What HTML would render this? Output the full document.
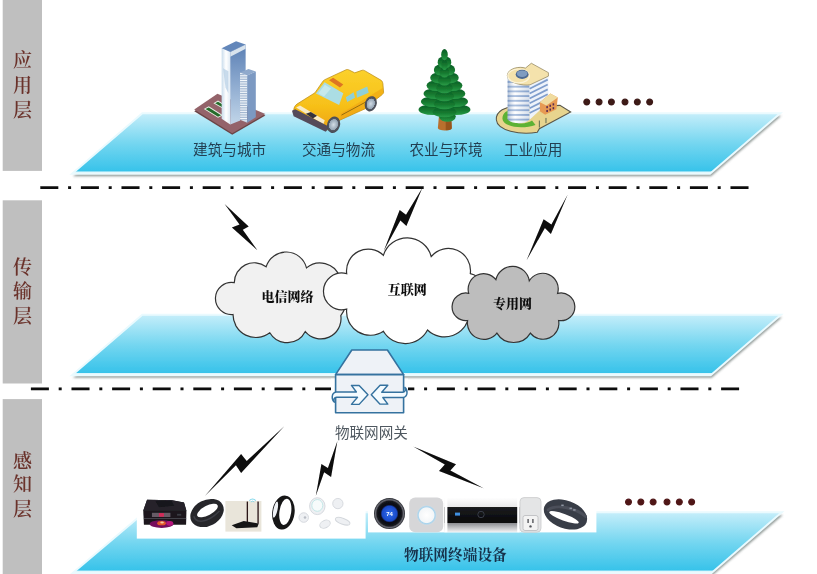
<!DOCTYPE html>
<html lang="zh">
<head>
<meta charset="utf-8">
<title>物联网三层架构</title>
<style>
html,body{margin:0;padding:0;background:#fff;}
body{width:817px;height:574px;overflow:hidden;position:relative;font-family:"Liberation Sans","Noto Sans CJK SC",sans-serif;}
svg{position:absolute;left:0;top:0;display:block;}
.side{font-family:"Liberation Serif","Noto Serif CJK SC",serif;font-weight:600;font-size:19px;fill:#6b332c;text-anchor:middle;}
.lab{font-family:"Liberation Sans","Noto Sans CJK SC",sans-serif;font-size:14.6px;fill:#243f52;text-anchor:middle;}
.cloudt{font-family:"Liberation Serif","Noto Serif CJK SC",serif;font-weight:900;font-size:13px;fill:#111;text-anchor:middle;}
.dev{font-family:"Liberation Serif","Noto Serif CJK SC",serif;font-weight:700;font-size:14.7px;fill:#17324c;text-anchor:middle;}
.gw{font-family:"Liberation Sans","Noto Sans CJK SC",sans-serif;font-size:14.6px;fill:#4f5860;text-anchor:middle;}
.dots{font-family:"Liberation Serif","Noto Serif CJK SC",serif;font-weight:900;}
</style>
</head>
<body>
<svg width="817" height="574" viewBox="0 0 817 574">
<defs>
  <linearGradient id="pl" x1="0" y1="0" x2="0" y2="1">
    <stop offset="0" stop-color="#c6eefa"/>
    <stop offset="0.1" stop-color="#b5e9f8"/>
    <stop offset="0.5" stop-color="#74d6f0"/>
    <stop offset="0.955" stop-color="#38c3ea"/>
    <stop offset="0.968" stop-color="#dcf6fd"/>
    <stop offset="1" stop-color="#ecfbfe"/>
  </linearGradient>
  <filter id="sh" x="-5%" y="-20%" width="110%" height="150%">
    <feGaussianBlur stdDeviation="1.0"/>
  </filter>

  <linearGradient id="twR" x1="0" y1="0" x2="0" y2="1">
    <stop offset="0" stop-color="#5a7fb4"/><stop offset="0.5" stop-color="#8eabd0"/><stop offset="1" stop-color="#c2d6e9"/>
  </linearGradient>
  <linearGradient id="twL" x1="0" y1="0" x2="1" y2="0">
    <stop offset="0" stop-color="#c9dcec"/><stop offset="0.5" stop-color="#ffffff"/><stop offset="1" stop-color="#dfeaf4"/>
  </linearGradient>
  <pattern id="stripes" width="10" height="9" patternUnits="userSpaceOnUse">
    <rect width="10" height="9" fill="#f4f8fc"/><rect y="5" width="10" height="4" fill="#93abc9"/>
  </pattern>
  <radialGradient id="leaf" cx="0.45" cy="0.4" r="0.65">
    <stop offset="0" stop-color="#2f9b45"/><stop offset="0.7" stop-color="#17762f"/><stop offset="1" stop-color="#0c5a22"/>
  </radialGradient>
  <linearGradient id="taxi" x1="0" y1="0" x2="0" y2="1">
    <stop offset="0" stop-color="#fbd12b"/><stop offset="0.6" stop-color="#f7c019"/><stop offset="1" stop-color="#eea312"/>
  </linearGradient>
  <radialGradient id="wheel" cx="0.5" cy="0.5" r="0.5">
    <stop offset="0" stop-color="#d3dde6"/><stop offset="0.66" stop-color="#93a3b3"/><stop offset="0.7" stop-color="#555862"/><stop offset="1" stop-color="#474a54"/>
  </radialGradient>
  <pattern id="floors" width="10" height="27" patternUnits="userSpaceOnUse">
    <rect width="10" height="27" fill="#ffffff"/><rect y="16" width="10" height="11" fill="#90abd3"/>
  </pattern>
  <linearGradient id="cylsh" x1="0" y1="0" x2="1" y2="0">
    <stop offset="0" stop-color="#5f7fae" stop-opacity="0.55"/><stop offset="0.35" stop-color="#ffffff" stop-opacity="0.25"/><stop offset="1" stop-color="#5f7fae" stop-opacity="0.25"/>
  </linearGradient>
  <filter id="soft" x="-10%" y="-10%" width="120%" height="120%"><feGaussianBlur stdDeviation="0.35"/></filter>

  <radialGradient id="nest" cx="0.5" cy="0.5" r="0.5">
    <stop offset="0" stop-color="#2f6cf0"/><stop offset="0.48" stop-color="#1a4ac8"/><stop offset="0.58" stop-color="#0a0c16"/><stop offset="0.8" stop-color="#14151b"/><stop offset="0.9" stop-color="#6a6c74"/><stop offset="1" stop-color="#23242a"/>
  </radialGradient>
  <radialGradient id="prot" cx="0.5" cy="0.5" r="0.5">
    <stop offset="0" stop-color="#ffffff"/><stop offset="0.72" stop-color="#f3f6f8"/><stop offset="0.82" stop-color="#a8d4ee"/><stop offset="1" stop-color="#d9dadc"/>
  </radialGradient>
  <linearGradient id="stb" x1="0" y1="0" x2="0" y2="1">
    <stop offset="0" stop-color="#ffffff"/><stop offset="0.27" stop-color="#e9e9ea"/><stop offset="0.28" stop-color="#1a1b1f"/><stop offset="0.72" stop-color="#08080a"/><stop offset="0.74" stop-color="#8d8e92"/><stop offset="1" stop-color="#f4f4f5"/>
  </linearGradient>
  <filter id="soft2" x="-10%" y="-10%" width="120%" height="120%"><feGaussianBlur stdDeviation="0.5"/></filter>
  <filter id="gblur" filterUnits="userSpaceOnUse" x="-10" y="-10" width="840" height="600"><feGaussianBlur stdDeviation="0.4"/></filter>
  <linearGradient id="leaf2" x1="0" y1="0" x2="0" y2="1">
    <stop offset="0" stop-color="#0b5c26"/><stop offset="0.55" stop-color="#15792f"/><stop offset="1" stop-color="#2a9c48"/>
  </linearGradient>
</defs>
<g filter="url(#gblur)">

<!-- sidebars -->
<rect x="2.7" y="-6" width="39.3" height="176.9" fill="#bfbfbf"/>
<rect x="2.7" y="200.3" width="39.3" height="183.2" fill="#bfbfbf"/>
<rect x="2.7" y="399.1" width="39.3" height="182" fill="#bfbfbf"/>
<text class="side" x="22.4" y="67">应</text>
<text class="side" x="22.4" y="91.5">用</text>
<text class="side" x="22.4" y="116.5">层</text>

<text class="side" x="22.5" y="273.5">传</text>
<text class="side" x="22.5" y="298">输</text>
<text class="side" x="22.5" y="322.5">层</text>
<text class="side" x="22.5" y="467.5">感</text>
<text class="side" x="22.5" y="491">知</text>
<text class="side" x="22.5" y="515.5">层</text>
<!-- planes -->
<g>
  <polygon points="143.3,115.8 781.3,115.8 711.0,176.2 73.0,176.2" fill="#7f8986" opacity="0.85" filter="url(#sh)"/>
  <polygon points="142.3,113.2 780.3,113.2 710.0,173.8 72,173.8" fill="url(#pl)" stroke="#eafafe" stroke-width="2"/>
  <polygon points="143.3,317.3 782.0,317.3 711.7,377.7 73.0,377.7" fill="#7f8986" opacity="0.85" filter="url(#sh)"/>
  <polygon points="142.3,314.7 781,314.7 710.7,375.3 72,375.3" fill="url(#pl)" stroke="#eafafe" stroke-width="2"/>
  <polygon points="145.6,514.9 782.8,514.9 712.5,575.3 73.7,575.3" fill="#7f8986" opacity="0.85" filter="url(#sh)"/>
  <polygon points="144.6,512.3 781.8,512.3 711.5,572.9 72.7,572.9" fill="url(#pl)" stroke="#eafafe" stroke-width="2"/>
</g>
<!-- dash-dot separators -->
<line x1="40.3" y1="187.6" x2="748.6" y2="187.6" stroke="#0a0a0a" stroke-width="2.8" stroke-dasharray="18 9.8 3 9.8"/>
<line x1="30.9" y1="388.8" x2="739.2" y2="388.8" stroke="#0a0a0a" stroke-width="2.8" stroke-dasharray="18 9.8 3 9.8"/>
<text class="lab" x="229.6" y="155.2">建筑与城市</text>
<text class="lab" x="338.5" y="155.2">交通与物流</text>
<text class="lab" x="446" y="155.2">农业与环境</text>
<text class="lab" x="533.2" y="155.2">工业应用</text>
<text class="dots" x="580.7" y="104.8" font-size="36.6" fill="#3c1a17" stroke="#3c1a17" stroke-width="1.1" letter-spacing="1.7">……</text>
<text class="dots" x="622.6" y="505.3" font-size="36.6" fill="#4f1416" stroke="#4f1416" stroke-width="1.1" letter-spacing="1.9">……</text>

<!-- skyscraper -->
<g transform="translate(190,30) scale(0.19185)" filter="url(#soft)">
  <polygon points="22,423 143,340 393,446 220,546" fill="#6b4446"/>
  <polygon points="22,415 143,332 393,438 220,538" fill="#94646a"/>
  <polygon points="72,412 98,398 172,444 146,458" fill="#e9efe6"/>
  <polygon points="81,412 98,404 162,444 146,452" fill="#256c2c"/>
  <polygon points="122,382 146,368 188,394 166,407" fill="#e9efe6"/>
  <polygon points="131,382 146,374 179,394 166,401" fill="#256c2c"/>
  <polygon points="165,95 210,115 210,492 165,462" fill="url(#twL)"/>
  <polygon points="210,115 290,75 290,215 262,240 262,472 210,492" fill="url(#twR)"/>
  <polygon points="210,115 290,75 290,98 210,140" fill="#d8e3ed"/>
  <polygon points="165,95 240,58 290,75 210,115" fill="#6487ba"/>
  <polygon points="261,222 305,203 343,216 298,237" fill="#8fa9cc"/>
  <polygon points="261,222 298,237 298,484 261,468" fill="url(#stripes)"/>
  <polygon points="298,237 343,216 343,455 298,484" fill="#7b99c2"/>
  <polygon points="172,200 200,215 200,330 185,300" fill="#b4cde4" opacity="0.7"/>
</g>
<!-- taxi -->
<g transform="translate(285,60) scale(0.13945)" filter="url(#soft)">
  <path d="M62,362 C64,340 72,326 86,316 L215,235 L272,152 C278,145 286,140 296,136 L438,70 C446,67 452,68 460,72 L500,92 L552,74 C560,72 566,73 574,78 L690,146 C698,152 700,160 702,170 L707,232 C706,240 700,246 690,254 L640,292 L585,345 L392,432 L335,500 L292,500 L66,392 Z" fill="url(#taxi)" stroke="#b98712" stroke-width="5"/>
  <polygon points="222,240 284,160 418,238 388,322" fill="#abdde4"/>
  <polygon points="240,238 286,178 330,204 280,262" fill="#d2eef0" opacity="0.7"/>
  <polygon points="436,268 492,232 502,270 446,302" fill="#8fd0d6"/>
  <polygon points="512,226 590,190 600,234 516,270" fill="#8fd0d6"/>
  <polygon points="316,146 345,128 418,176 394,198" fill="#dd7424"/>
  <path d="M395,430 L585,345 L640,292 L707,235 L700,200 L400,385 Z" fill="#eea010" opacity="0.55"/>
  <line x1="405" y1="395" x2="600" y2="290" stroke="#6e5210" stroke-width="5"/>
  <polygon points="80,340 108,326 285,432 275,462" fill="#f8f1da" opacity="0.9"/>
  <polygon points="50,364 74,354 300,470 312,492 292,514 62,404" fill="#554c5a"/>
  <polygon points="150,385 185,372 230,400 200,420" fill="#35313a"/>
  <ellipse cx="348" cy="464" rx="46" ry="60" fill="url(#wheel)" transform="rotate(18 348 464)"/>
  <ellipse cx="615" cy="314" rx="42" ry="56" fill="url(#wheel)" transform="rotate(18 615 314)"/>
</g>
<!-- tree -->
<g transform="translate(410,40) scale(0.17413)" filter="url(#soft)">
  <path d="M166,440 L236,440 L240,505 A39,14 0 0 1 160,505 Z" fill="#b8702f"/>
  <path d="M205,440 L236,440 L240,505 A39,14 0 0 1 205,519 Z" fill="#96551f"/>
  <polygon points="198,90 74,405 326,405" fill="#0e642a"/>
  <g fill="url(#leaf2)">
    <ellipse cx="215" cy="440" rx="48" ry="30"/>
    <ellipse cx="132" cy="400" rx="83" ry="31"/><ellipse cx="264" cy="400" rx="83" ry="31"/><ellipse cx="198" cy="414" rx="69" ry="30"/>
    <ellipse cx="138" cy="354" rx="75" ry="31"/><ellipse cx="258" cy="354" rx="75" ry="31"/><ellipse cx="198" cy="368" rx="62" ry="30"/>
    <ellipse cx="145" cy="308" rx="67" ry="31"/><ellipse cx="251" cy="308" rx="67" ry="31"/><ellipse cx="198" cy="322" rx="56" ry="30"/>
    <ellipse cx="152" cy="262" rx="57" ry="31"/><ellipse cx="244" cy="262" rx="57" ry="31"/><ellipse cx="198" cy="276" rx="48" ry="30"/>
    <ellipse cx="162" cy="217" rx="46" ry="31"/><ellipse cx="234" cy="217" rx="46" ry="31"/><ellipse cx="198" cy="231" rx="38" ry="30"/>
    <ellipse cx="171" cy="172" rx="34" ry="31"/><ellipse cx="225" cy="172" rx="34" ry="31"/><ellipse cx="198" cy="186" rx="28" ry="30"/>
    <ellipse cx="181" cy="128" rx="22" ry="31"/><ellipse cx="215" cy="128" rx="22" ry="31"/><ellipse cx="198" cy="142" rx="18" ry="30"/>
    <ellipse cx="198" cy="84" rx="19" ry="32"/>
  </g>
</g>
<!-- industrial building -->
<g transform="translate(485,50) scale(0.17422)" filter="url(#soft)">
  <path d="M65,400 C62,350 120,322 175,328 L430,318 L492,356 L312,452 L300,472 C200,490 70,462 65,400 Z" fill="#e7d48e" stroke="#5a5648" stroke-width="6"/>
  <path d="M100,395 C100,360 130,345 150,345 L150,400 C180,430 240,425 270,405 L290,430 C220,455 105,445 100,395 Z" fill="#5db234"/>
  <path d="M130,150 L130,385 A63,28 0 0 0 256,398 L256,190 Z" fill="url(#floors)"/>
  <path d="M130,150 L130,385 A63,28 0 0 0 256,398 L256,190 Z" fill="url(#cylsh)"/>
  <polygon points="256,196 364,146 364,300 256,400" fill="#eef3fa"/>
  <g stroke="#7f9dcc" stroke-width="10">
    <line x1="256" y1="222" x2="360" y2="170"/><line x1="256" y1="250" x2="360" y2="198"/><line x1="256" y1="278" x2="360" y2="226"/><line x1="256" y1="306" x2="360" y2="254"/><line x1="256" y1="334" x2="340" y2="292"/><line x1="256" y1="362" x2="320" y2="330"/>
  </g>
  <path d="M128,148 C128,104 200,92 232,104 L266,76 L364,130 L364,150 L258,200 C220,206 133,192 128,148 Z" fill="#f4e2ac" stroke="#8a7d55" stroke-width="4"/>
  <ellipse cx="193" cy="149" rx="62" ry="40" fill="none" stroke="#fbf3d8" stroke-width="7"/>
  <ellipse cx="213" cy="140" rx="37" ry="26" fill="#4d6a92"/>
  <ellipse cx="213" cy="136" rx="30" ry="19" fill="#7f9cc0"/>
  <polygon points="315,300 375,250 418,272 410,340 345,372 315,352" fill="#e79a52"/>
  <polygon points="315,300 375,250 418,272 352,318" fill="#f0dca0"/>
  <g fill="#5a2a50">
    <rect x="352" y="322" width="9" height="12"/><rect x="370" y="314" width="9" height="12"/><rect x="388" y="306" width="9" height="12"/>
    <rect x="352" y="344" width="9" height="12"/><rect x="370" y="336" width="9" height="12"/><rect x="388" y="328" width="9" height="12"/>
  </g>
  <line x1="312" y1="405" x2="312" y2="445" stroke="#4a5a48" stroke-width="5"/><line x1="350" y1="390" x2="350" y2="420" stroke="#4a5a48" stroke-width="5"/>
</g>

<!-- clouds -->
<path d="M266.1,266.7 A21.0,21.0 0 0 1 306.5,267.9 A20.8,20.8 0 0 1 339.5,276.5 A31.9,31.9 0 0 1 340.8,315.7 A20.2,20.2 0 0 1 305.3,331.6 A20.3,20.3 0 0 1 269.8,332.8 A22.9,22.9 0 0 1 233.0,314.5 A16.1,16.1 0 1 1 234.3,282.6 A19.9,19.9 0 0 1 266.1,266.7Z" fill="#f1f1f1" stroke="#333333" stroke-width="1.2"/>
<path d="M383.4,255.3 A24.9,24.9 0 0 1 431.2,256.5 A22.2,22.2 0 0 1 470.3,273.6 A21.3,21.3 0 0 1 469.1,315.3 A24.7,24.7 0 0 1 427.5,330.0 A25.2,25.2 0 0 1 383.4,331.2 A23.6,23.6 0 0 1 346.7,309.1 A18.4,18.4 0 1 1 346.7,273.6 A21.7,21.7 0 0 1 383.4,255.3Z" fill="#ffffff" stroke="#333333" stroke-width="1.2"/>
<path d="M495.9,279.7 A17.0,17.0 0 0 1 529.3,280.8 A15.6,15.6 0 0 1 557.6,293.3 A13.9,13.9 0 1 1 558.6,320.5 A15.9,15.9 0 0 1 530.4,333.1 A19.6,19.6 0 0 1 496.9,333.1 A16.5,16.5 0 0 1 467.6,320.5 A13.8,13.8 0 1 1 468.7,293.3 A15.5,15.5 0 0 1 495.9,279.7Z" fill="#bdbdbd" stroke="#333333" stroke-width="1.2"/>
<text class="cloudt" x="287.5" y="301">电信网络</text>
<text class="cloudt" x="407.3" y="294">互联网</text>
<text class="cloudt" x="512.6" y="308.3">专用网</text>

<!-- gateway -->
<rect x="331" y="378.6" width="77" height="42" fill="#ffffff"/>
<rect x="331" y="419" width="80" height="24" fill="#ffffff"/>
<g stroke="#34729f" stroke-width="1.6" stroke-linejoin="round">
  <polygon points="351.8,350 387.4,350 403.6,374.6 335.6,374.6" fill="#eef2f7"/>
  <rect x="335.6" y="374.6" width="68" height="38.2" fill="#eef2f7"/>
  <g transform="translate(325,370) scale(0.11016)" stroke-width="13">
    <path id="arw" d="M100,200 L285,200 L240,140 L310,140 L390,225 L310,312 L240,312 L295,248 L105,248 C85,248 75,265 85,292 C58,270 55,210 100,200 Z" fill="#f4fbff"/>
    <use href="#arw" transform="rotate(180 405 225)"/>
  </g>
</g>
<text class="gw" x="371.4" y="437.6">物联网网关</text>

<!-- devices -->
<rect x="136.8" y="494" width="228.8" height="44.6" fill="#ffffff"/>
<rect x="368" y="494" width="228.4" height="38.4" fill="#ffffff"/>
<g filter="url(#soft2)">
  <!-- printer -->
  <g transform="translate(138,494) scale(0.06969)">
    <path d="M75,240 L130,82 L490,90 L660,122 L695,240 L690,440 L85,440 Z" fill="#1a191e"/>
    <path d="M130,82 L490,90 L660,122 L695,240 L75,240 Z" fill="#26242c"/>
    <path d="M250,100 L480,96 L520,170 L300,190 Z" fill="#15141a"/>
    <rect x="85" y="345" width="605" height="12" fill="#4c4c52"/>
    <rect x="200" y="270" width="265" height="60" fill="#665c66"/>
    <rect x="300" y="274" width="72" height="52" fill="#d22a58"/>
    <rect x="560" y="285" width="60" height="26" fill="#3a3a42"/>
    <ellipse cx="340" cy="432" rx="172" ry="56" fill="#76105c"/>
    <ellipse cx="455" cy="420" rx="50" ry="34" fill="#b5177c"/>
    <ellipse cx="338" cy="418" rx="62" ry="32" fill="#e2582c"/>
    <ellipse cx="345" cy="410" rx="26" ry="14" fill="#f4c9a0"/>
  </g>
  <!-- wristband 1 -->
  <g transform="translate(185,492) scale(0.14688)">
    <ellipse cx="150" cy="143" rx="120" ry="88" transform="rotate(-28 150 143)" fill="#25262b"/>
    <ellipse cx="153" cy="126" rx="78" ry="32" transform="rotate(-28 153 126)" fill="#ffffff"/>
    <path d="M60,165 C75,215 150,215 235,130" fill="none" stroke="#3c3d44" stroke-width="10"/>
  </g>
  <!-- router -->
  <rect x="225.4" y="501" width="36" height="30.6" fill="#e9e5da"/>
  <g transform="translate(185,492) scale(0.14688)">
    <rect x="420" y="65" width="9" height="150" fill="#2a1618"/>
    <rect x="493" y="65" width="9" height="150" fill="#2a1618"/>
    <polygon points="318,226 400,198 502,214 492,240 350,247" fill="#151517"/>
    <path d="M438,58 Q460,36 482,58" fill="none" stroke="#7fd6ea" stroke-width="7"/>
    <path d="M448,68 Q460,56 472,68" fill="none" stroke="#7fd6ea" stroke-width="6"/>
  </g>
  <!-- mi band -->
  <g transform="translate(185,492) scale(0.14688)">
    <ellipse cx="670" cy="140" rx="76" ry="116" transform="rotate(8 670 140)" fill="#131316"/>
    <ellipse cx="683" cy="135" rx="40" ry="90" transform="rotate(8 683 135)" fill="#ffffff"/>
    <ellipse cx="616" cy="120" rx="14" ry="56" transform="rotate(12 616 120)" fill="#eef1f5"/>
  </g>
  <!-- white sensors -->
  <g transform="translate(220,490) scale(0.1836)" fill="#eef0f3" stroke="#d3d7dc" stroke-width="5">
    <ellipse cx="530" cy="88" rx="42" ry="46"/>
    <ellipse cx="530" cy="84" rx="30" ry="32" fill="#f7fbfb" stroke="#bfe6e6"/>
    <circle cx="642" cy="74" r="28"/>
    <circle cx="456" cy="150" r="26"/>
    <ellipse cx="572" cy="186" rx="30" ry="20" transform="rotate(-25 572 186)"/>
    <ellipse cx="668" cy="170" rx="42" ry="16" transform="rotate(20 668 170)"/>
    <circle cx="463" cy="150" r="7" fill="#b9bec6" stroke="none"/>
  </g>
  <!-- nest thermostat -->
  <circle cx="389.5" cy="513.6" r="15.5" fill="url(#nest)"/>
  <text x="389.5" y="516" font-family="Liberation Sans, sans-serif" font-size="6" font-weight="700" fill="#ffffff" text-anchor="middle">74</text>
  <!-- nest protect -->
  <rect x="409.2" y="497.6" width="34" height="34.6" rx="6" ry="6" fill="#d6d6d8"/>
  <circle cx="426.6" cy="515.2" r="10.2" fill="url(#prot)"/>
  <!-- set top box -->
  <rect x="444.4" y="497.6" width="75.2" height="34.6" fill="url(#stb)"/>
  <rect x="444.4" y="497.6" width="3" height="34.6" fill="#ffffff"/>
  <rect x="517.2" y="497.6" width="2.4" height="34.6" fill="#ffffff"/>
  <rect x="455" y="512.6" width="5" height="3" fill="#3f8fe0"/>
  <circle cx="481" cy="514.5" r="3.2" fill="none" stroke="#3a3d48" stroke-width="1"/>
  <!-- smart plug -->
  <rect x="520" y="497.6" width="21" height="34.6" rx="4" ry="4" fill="#e4e5e6" stroke="#c9cacc" stroke-width="0.8"/>
  <rect x="523" y="515.5" width="15" height="15" rx="2" ry="2" fill="#f3f3f3" stroke="#b9babd" stroke-width="0.8"/>
  <rect x="527.4" y="519" width="1.4" height="4" fill="#55575c"/><rect x="532.2" y="519" width="1.4" height="4" fill="#55575c"/><circle cx="530.5" cy="526.4" r="1.2" fill="#55575c"/>
  <!-- wristband 2 -->
  <g transform="translate(515,490) scale(0.11016)">
    <ellipse cx="458" cy="222" rx="205" ry="126" transform="rotate(20 458 222)" fill="#393c46"/>
    <ellipse cx="445" cy="248" rx="142" ry="30" transform="rotate(20 445 248)" fill="#ffffff"/>
    <path d="M300,180 C380,120 560,170 640,240" fill="none" stroke="#4b4f5a" stroke-width="26" stroke-linecap="round"/>
    <rect x="420" y="132" width="22" height="14" fill="#8f96a3"/><rect x="495" y="160" width="22" height="14" fill="#8f96a3"/><rect x="528" y="174" width="22" height="14" fill="#8f96a3"/>
  </g>
</g>
<text class="dev" x="455.4" y="559.6">物联网终端设备</text>

<!-- lightning bolts -->
<g fill="#0a0a0a">
<polygon points="224.6,203.9 248.7,226.5 242.8,229.7 257.4,250.2 231.9,227.4 239.5,224.6"/>
<polygon points="422.4,187.7 406,214.8 399.7,210 383.7,251.1 400.4,220.4 406.4,226"/>
<polygon points="567.6,194.8 551.4,224.4 543.6,219.2 526.5,260.5 544.9,227.9 550.9,234"/>
<polygon points="284.3,426.3 246.7,461.1 241.1,454.1 204.9,495.9 235.9,465.3 241.1,472.9"/>
<polygon points="337.4,440.9 327.9,468.1 321.4,463.9 315.8,496 324.1,472.3 331.1,477.1"/>
<polygon points="413.2,446.5 456,464.3 450.4,470.4 483.6,488.2 439,471.1 444.8,464.6"/>
</g>

</g>
</svg>
</body>
</html>
